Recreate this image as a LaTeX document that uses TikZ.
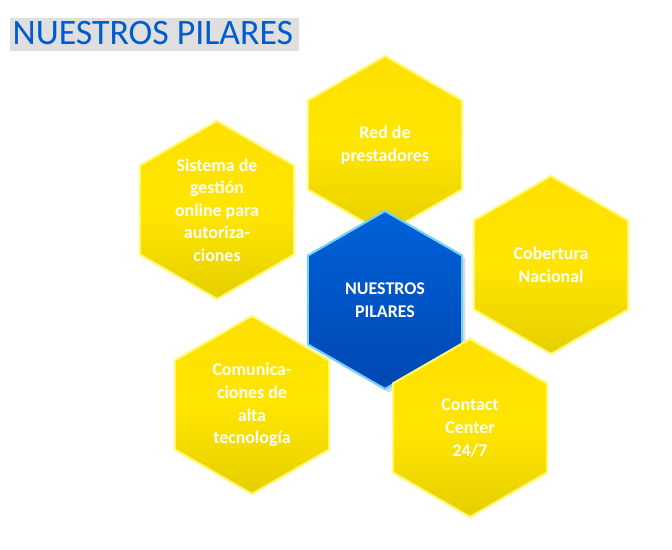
\documentclass[tikz,border=0pt]{standalone}
\usepackage{fontspec}
\setmainfont{Carlito}
\usetikzlibrary{shapes.geometric,shadows}

\tikzset{
  hexa/.style={regular polygon, regular polygon sides=6, shape border rotate=30,
    minimum size=178*0.0265cm, inner sep=0pt, draw=#1!55!white, line width=1.6pt,
    text=white, font=\bfseries\fontsize{13.5}{17}\selectfont, align=center},
  pilar/.style={hexa=yellow, top color=yellow!75!orange, bottom color=orange!20!yellow!90!black,
    middle color=yellow!80!orange},
  centro/.style={hexa=cyan, top color=blue!55!cyan!85!black, bottom color=blue!60!cyan!70!black,
    drop shadow={opacity=0.3}},
}

\begin{document}
\begin{tikzpicture}[x=0.0265cm, y=-0.0265cm]
  \useasboundingbox (0,0) rectangle (672,549);

  % Titulo
  \node (titulo) [anchor=west, text=blue!55!cyan!80!black, font=\fontsize{27}{30}\selectfont,
    drop shadow={opacity=0.25, shadow xshift=1pt, shadow yshift=-1pt}] at (8,33) {NUESTROS PILARES};

  % Pilares
  \node (red) [pilar] at (385,145) {Red de\\prestadores};
  \node (sistema) [pilar] at (217,210) {Sistema de\\gestión\\online para\\autoriza-\\ciones};
  \node (cobertura) [pilar] at (551,265) {Cobertura\\Nacional};
  \node (comunica) [pilar] at (252,405) {Comunica-\\ciones de\\alta\\tecnología};
  \node (centro) [centro] at (385,300) {NUESTROS\\PILARES};
  \node (contact) [pilar] at (470,428) {Contact\\Center\\24/7};
\end{tikzpicture}
\end{document}
